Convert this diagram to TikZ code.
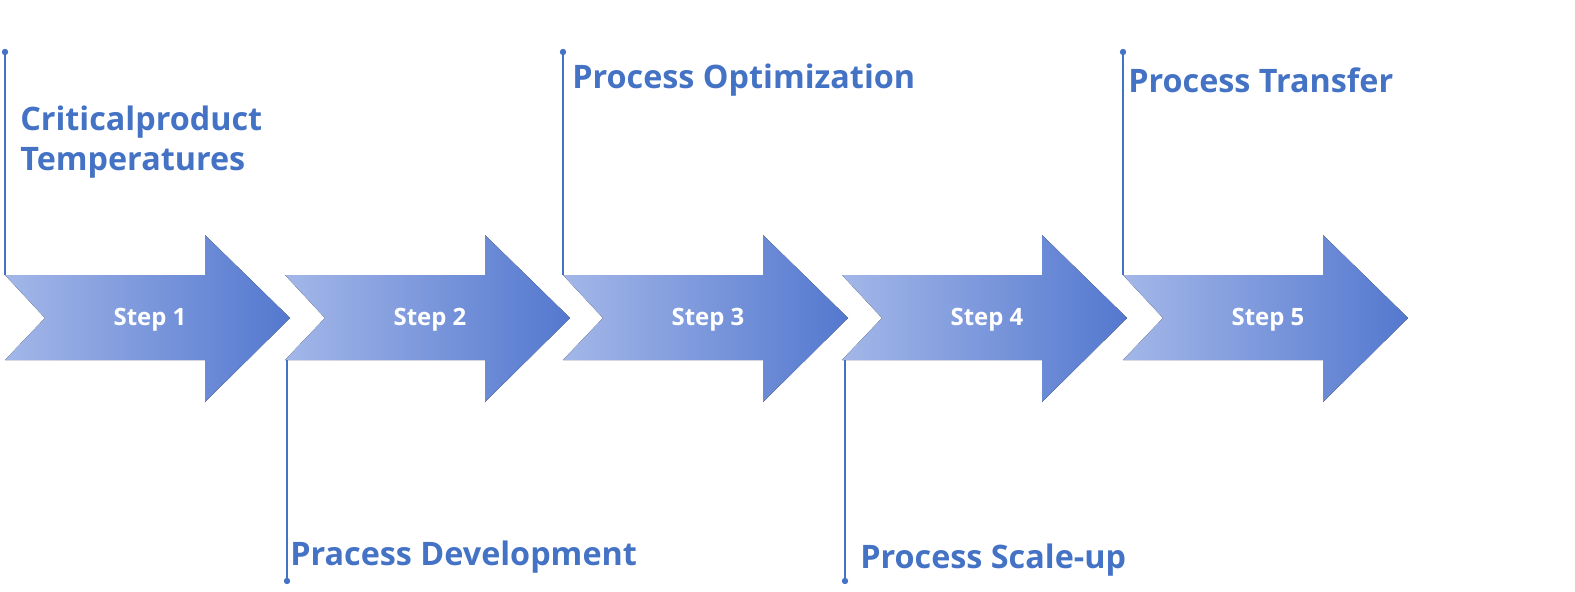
\documentclass[tikz,border=0pt]{standalone}
\usepackage{fontspec}
\setmainfont{Open Sans}
\definecolor{stepLight}{HTML}{A3B7E8}
\definecolor{stepDark}{HTML}{5478CF}
\definecolor{labelBlue}{HTML}{4472C4}
\tikzset{
  steparrow/.style={left color=stepLight, right color=stepDark, draw=none},
  steptext/.style={text=white, font=\bfseries\fontsize{17}{20}\selectfont},
  phase/.style={text=labelBlue, font=\bfseries\fontsize{23}{28}\selectfont, anchor=west, align=left, inner sep=0pt},
  pin/.style={labelBlue, line width=0.8pt},
  pindot/.style={fill=labelBlue, circle, inner sep=1.6pt},
}
\begin{document}
\begin{tikzpicture}[x=0.025cm, y=-0.025cm]
\useasboundingbox (0,0) rectangle (1575,591);
% arrows
\foreach \xo/\n in {5/1, 285/2, 563/3, 842/4, 1123/5} {
  \fill[steparrow] (\xo,275) -- ++(200,0) -- ++(0,-40) -- ++(85,83) -- ++(-85,84)
    -- ++(0,-42) -- ++(-200,0) -- ++(40,-42) -- cycle;
  \node[steptext] (step\n) at (\xo+145,320) {Step \n};
}
% pins above
\foreach \xo/\n in {5/1, 563/3, 1123/5} {
  \node[pindot] (dot\n) at (\xo,52) {};
  \coordinate (foot\n) at (\xo,275);
  \draw[pin] (dot\n.center) -- (foot\n);
}
% pins below
\foreach \xo/\n in {287/2, 845/4} {
  \node[pindot] (dot\n) at (\xo,581) {};
  \coordinate (foot\n) at (\xo,360);
  \draw[pin] (dot\n.center) -- (foot\n);
}
\node[phase] (phase1) at (20,142) {Criticalproduct\\Temperatures};
\node[phase] (phase2) at (290,557) {Pracess Development};
\node[phase] (phase3) at (572,80) {Process Optimization};
\node[phase] (phase4) at (860,560) {Process Scale-up};
\node[phase] (phase5) at (1128,80) {Process Transfer};
\end{tikzpicture}
\end{document}
